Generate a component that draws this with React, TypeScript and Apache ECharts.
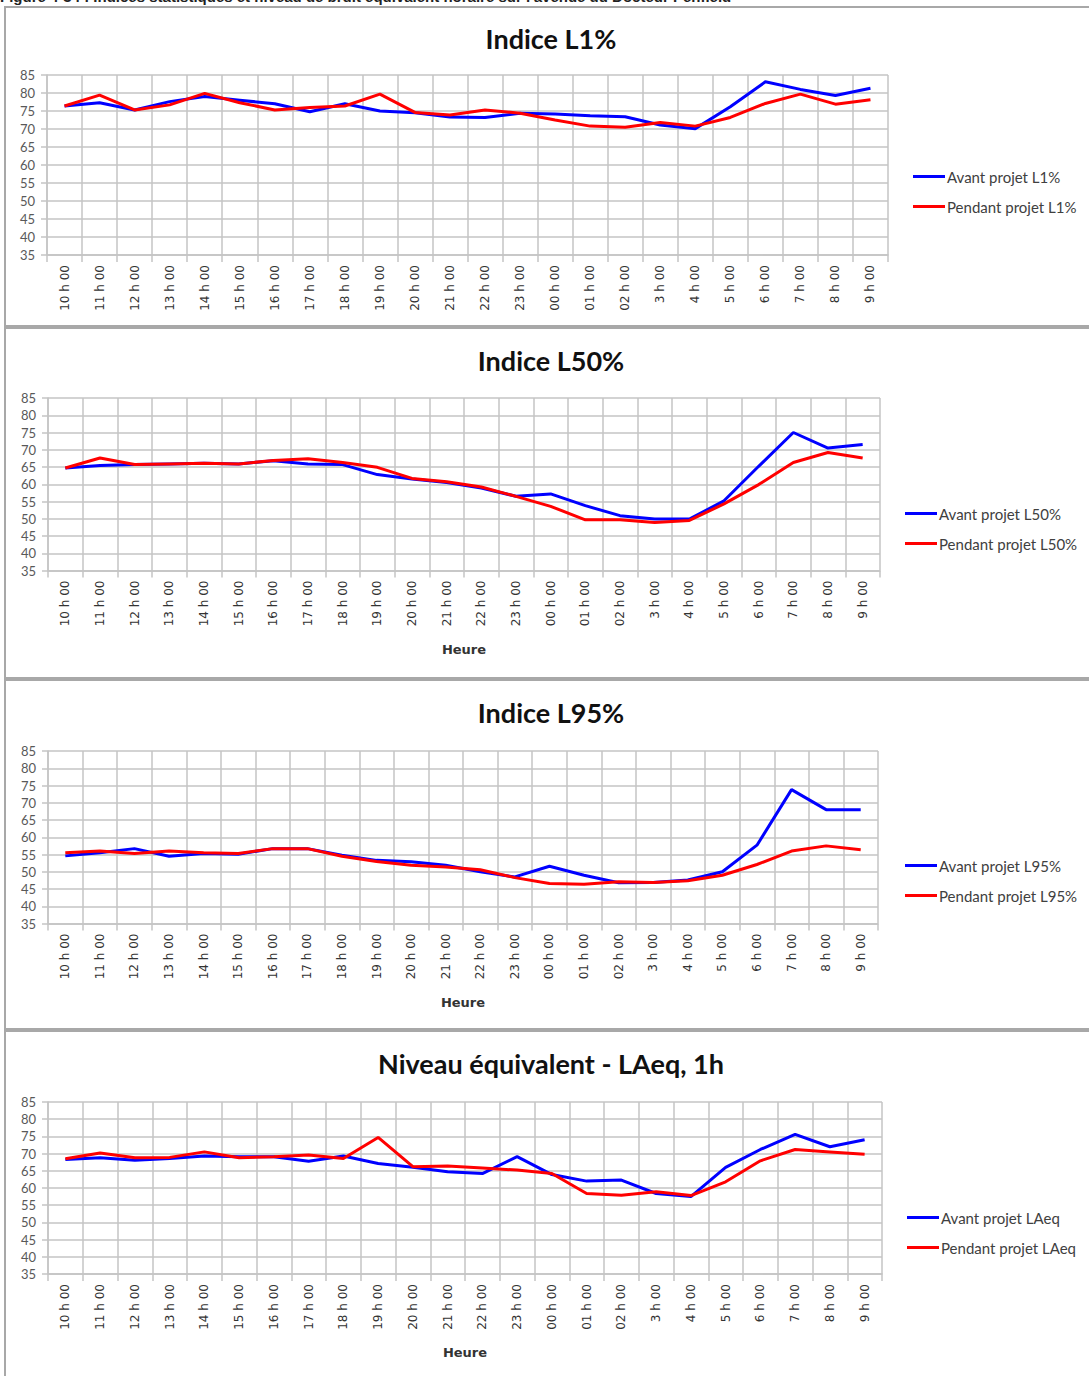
import React, { useEffect, useRef } from "react";
import * as echarts from "echarts";

const hours = [
  "10 h 00", "11 h 00", "12 h 00", "13 h 00", "14 h 00", "15 h 00", "16 h 00", "17 h 00",
  "18 h 00", "19 h 00", "20 h 00", "21 h 00", "22 h 00", "23 h 00", "00 h 00", "01 h 00",
  "02 h 00", "3 h 00", "4 h 00", "5 h 00", "6 h 00", "7 h 00", "8 h 00", "9 h 00",
];

const l1Avant = [76.4, 77.3, 75.3, 77.6, 79.0, 78.0, 77.0, 74.8, 77.0, 75.0, 74.5, 73.3, 73.2, 74.4, 74.2, 73.7, 73.4, 71.1, 70.1, 76.2, 83.1, 81.0, 79.3, 81.3];
const l1Pendant = [76.4, 79.4, 75.3, 76.7, 79.9, 77.3, 75.3, 76.0, 76.4, 79.7, 74.6, 73.9, 75.3, 74.4, 72.5, 70.8, 70.5, 71.8, 70.8, 73.2, 77.1, 79.7, 76.9, 78.1];

const l50Avant = [64.7, 65.4, 65.7, 65.9, 66.1, 65.9, 66.8, 65.9, 65.7, 62.8, 61.5, 60.5, 58.9, 56.5, 57.2, 53.8, 50.9, 49.9, 49.9, 55.2, 65.2, 75.0, 70.5, 71.5];
const l50Pendant = [64.7, 67.6, 65.7, 65.9, 66.1, 65.9, 66.9, 67.4, 66.3, 64.9, 61.7, 60.7, 59.2, 56.5, 53.6, 49.7, 49.7, 48.9, 49.5, 54.3, 59.9, 66.3, 69.2, 67.6];

const l95Avant = [54.6, 55.5, 56.7, 54.5, 55.3, 55.1, 56.7, 56.7, 54.8, 53.3, 52.9, 51.9, 50.0, 48.5, 51.6, 49.0, 46.8, 46.9, 47.6, 50.0, 57.7, 73.8, 68.0, 68.0];
const l95Pendant = [55.5, 56.0, 55.3, 56.0, 55.5, 55.3, 56.7, 56.7, 54.5, 53.0, 51.9, 51.4, 50.6, 48.3, 46.6, 46.4, 47.1, 46.9, 47.4, 49.0, 52.1, 56.0, 57.5, 56.4];

const laeqAvant = [68.3, 68.8, 68.1, 68.6, 69.3, 69.1, 69.1, 67.8, 69.3, 67.1, 66.0, 64.7, 64.2, 69.1, 63.9, 62.0, 62.3, 58.4, 57.5, 66.0, 71.2, 75.6, 72.0, 74.0];
const laeqPendant = [68.5, 70.2, 68.8, 68.9, 70.5, 68.8, 69.1, 69.6, 68.6, 74.7, 66.2, 66.4, 65.8, 65.2, 64.2, 58.4, 57.9, 58.9, 57.8, 61.8, 67.9, 71.2, 70.5, 69.8];

const titles = ["Indice L1%", "Indice L50%", "Indice L95%", "Niveau équivalent - LAeq, 1h"];
const avantNames = ["Avant projet L1%", "Avant projet L50%", "Avant projet L95%", "Avant projet LAeq"];
const pendantNames = ["Pendant projet L1%", "Pendant projet L50%", "Pendant projet L95%", "Pendant projet LAeq"];
const xAxisName = "Heure";
const caption = "Figure 4-34 : Indices statistiques et niveau de bruit équivalent horaire sur l'avenue du Docteur Penfield";

const avantData = [l1Avant, l50Avant, l95Avant, laeqAvant];
const pendantData = [l1Pendant, l50Pendant, l95Pendant, laeqPendant];

// layout per panel
const grids = [
  { left: 47, right: 201, top: 75, height: 180 },
  { left: 48, right: 209, top: 398, height: 172.5 },
  { left: 48, right: 211, top: 751, height: 172.5 },
  { left: 48, right: 207, top: 1102, height: 172 },
];
const titleY = [38, 360, 712, 1063];
const legendPos = [
  { left: 908, top: 164 },
  { left: 900, top: 501 },
  { left: 900, top: 853 },
  { left: 902, top: 1205 },
];
const frames = [
  { y: 7, h: 319 },
  { y: 328, h: 350 },
  { y: 680, h: 349 },
  { y: 1031, h: 360 },
];

const BLUE = "#0000FF";
const RED = "#FF0000";
const GRID = "#c4c4c4";

export default function App() {
  const ref = useRef<HTMLDivElement>(null);
  useEffect(() => {
    if (!ref.current) return;
    const chart = echarts.init(ref.current, null, { renderer: "svg" });

    const xAxis: any[] = [];
    const yAxis: any[] = [];
    const series: any[] = [];
    const legend: any[] = [];
    const graphic: any[] = [];

    frames.forEach((f) => {
      graphic.push({
        type: "rect",
        shape: { x: 5, y: f.y, width: 1100, height: f.h },
        style: { fill: "none", stroke: "#a8a8a8", lineWidth: 2 },
        silent: true,
      });
    });
    graphic.push({
      type: "text",
      x: 0,
      y: -11,
      style: { text: caption, font: "bold 15px 'Liberation Sans', Arial, sans-serif", fill: "#222" },
    });

    titles.forEach((t, i) => {
      graphic.push({
        type: "text",
        x: 551,
        y: titleY[i],
        style: {
          text: t,
          font: "bold 27px Lato, 'Noto Sans', sans-serif",
          fill: "#111",
          textAlign: "center",
          textVerticalAlign: "middle",
        },
      });
    });

    grids.forEach((g, i) => {
      xAxis.push({
        type: "category",
        gridIndex: i,
        data: hours,
        boundaryGap: true,
        name: i === 0 ? "" : xAxisName,
        nameLocation: "middle",
        nameGap: 72,
        nameTextStyle: { fontFamily: "DejaVu Sans", fontWeight: "bold", fontSize: 13, color: "#333" },
        axisLine: { show: true, lineStyle: { color: GRID, width: 1.5 } },
        axisTick: { show: true, length: 7, alignWithLabel: false, lineStyle: { color: GRID, width: 1.5 } },
        splitLine: { show: true, lineStyle: { color: GRID, width: 1.5 } },
        axisLabel: {
          rotate: 90,
          margin: 10,
          interval: 0,
          fontFamily: "DejaVu Sans",
          fontSize: 12,
          color: "#333",
        },
      });
      yAxis.push({
        type: "value",
        gridIndex: i,
        min: 35,
        max: 85,
        interval: 5,
        axisLine: { show: true, lineStyle: { color: GRID, width: 1.5 } },
        axisTick: { show: true, length: 6, lineStyle: { color: GRID, width: 1.5 } },
        splitLine: { show: true, lineStyle: { color: GRID, width: 1.5 } },
        axisLabel: { margin: 12, fontFamily: "Lato", fontSize: 13, color: "#595959" },
      });
      series.push({
        type: "line",
        name: avantNames[i],
        xAxisIndex: i,
        yAxisIndex: i,
        data: avantData[i],
        symbol: "none",
        lineStyle: { color: BLUE, width: 3 },
        itemStyle: { color: BLUE },
      });
      series.push({
        type: "line",
        name: pendantNames[i],
        xAxisIndex: i,
        yAxisIndex: i,
        data: pendantData[i],
        symbol: "none",
        lineStyle: { color: RED, width: 3 },
        itemStyle: { color: RED },
      });
      legend.push({
        orient: "vertical",
        left: legendPos[i].left,
        top: legendPos[i].top,
        data: [avantNames[i], pendantNames[i]],
        icon: "rect",
        itemWidth: 32,
        itemHeight: 3,
        itemGap: 15,
        selectedMode: false,
        textStyle: { fontFamily: "Lato", fontSize: 15, color: "#404040", padding: [0, 0, 0, -3] },
      });
    });

    chart.setOption({
      animation: false,
      backgroundColor: "#ffffff",
      grid: grids.map((g) => ({ left: g.left, right: g.right, top: g.top, height: g.height, containLabel: false })),
      xAxis,
      yAxis,
      series,
      legend,
      graphic,
    });
    return () => chart.dispose();
  }, []);

  return (
    <div
      ref={ref}
      style={{ position: "absolute", left: 0, top: 0, width: 1089, height: 1376, background: "#fff" }}
    />
  );
}
